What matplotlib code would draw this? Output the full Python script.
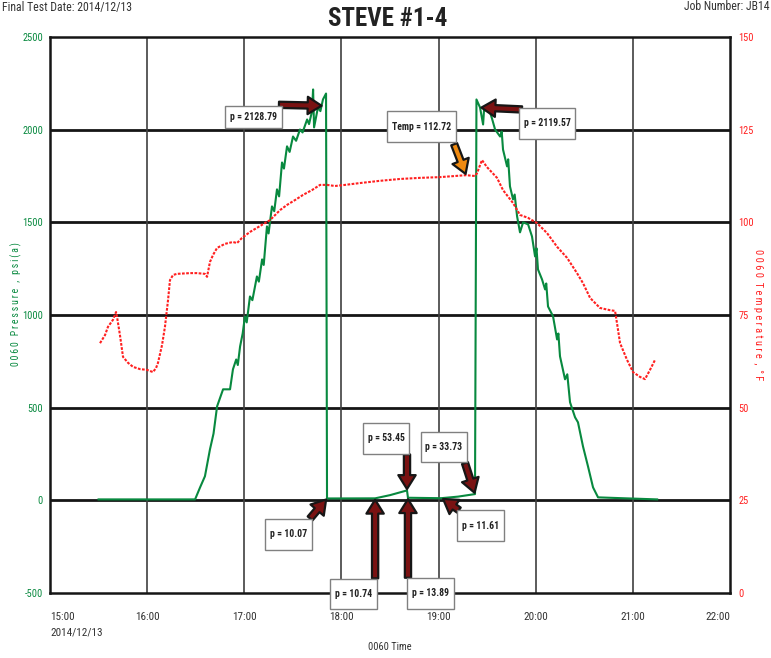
import matplotlib
matplotlib.use("Agg")
import matplotlib.pyplot as plt
import matplotlib.dates as mdates
from matplotlib import font_manager as fm
from matplotlib.path import Path
import pandas as pd

# ---------------- data ----------------
BASE = pd.Timestamp("2014-12-13 15:00")

# pressure series: minutes after 15:00, psi(a)
p_min = [30.0, 89.6, 92.7, 95.7, 98.8, 101.0, 103.2, 106.9, 111.2, 113.0, 115.0, 116.0, 117.4,
         119.0, 120.4, 121.5, 123.5, 125.0, 127.8, 129.0, 131.0, 132.0, 134.0, 135.0, 137.1,
         138.5, 140.2, 141.5, 143.3, 144.5, 146.4, 148.0, 150.1, 152.0, 154.4, 156.0, 158.8,
         160.0, 161.8, 162.5, 163.1, 165.5, 167.0, 168.6, 170.5, 171.1, 200.8, 210.0, 220.5,
         221.1, 240.9, 242.1, 252.0, 262.5,
         263.4, 265.6, 267.5, 268.1, 271.8, 273.0, 274.9, 278.0, 279.0, 279.8, 282.3, 283.0,
         284.1, 286.0, 287.0, 288.5, 290.3, 292.2, 295.3, 297.7, 299.6, 300.5, 301.4, 303.9,
         305.8, 306.5, 307.6, 310.7, 313.2, 314.0, 315.0, 318.1, 319.5, 321.2, 324.3, 326.1,
         329.2, 332.3, 335.4, 338.5, 375.0]
p_val = [5, 5, 70, 130, 275, 360, 507, 599, 599, 707, 760, 730, 830,
         900, 992, 960, 1100, 1080, 1208, 1180, 1300, 1270, 1478, 1440, 1586,
         1560, 1678, 1640, 1823, 1790, 1910, 1880, 1963, 1940, 2001, 1985, 2055,
         2030, 2098, 2217, 2012, 2120, 2100, 2163, 2195, 10.07, 10.74, 28, 53.45,
         13.89, 11.61, 12, 20, 33.73,
         2163, 2120, 2028, 2109, 2093, 2060, 2001, 1963, 1990, 1893, 1802, 1840,
         1694, 1624, 1650, 1532, 1446, 1500, 1489, 1424, 1316, 1360, 1246, 1192,
         1138, 1170, 1046, 993, 868, 900, 777, 653, 680, 529, 448, 421,
         291, 183, 70, 16, 5]

# temperature series: minutes after 15:00, deg F
t_min = [30.9, 34.0, 35.8, 38.9, 40.8, 41.4, 43.2, 45.1, 48.2, 51.3, 55.6, 59.9, 63.6,
         65.5, 66.7, 69.2, 71.0, 72.9, 74.1, 76.0, 78.4, 86.5, 90.8, 95.7, 97.0, 98.8,
         100.7, 103.2, 108.1, 113.0, 115.5, 118.6, 123.5, 129.7, 135.9, 142.1, 146.4,
         151.3, 156.3, 161.8, 166.8, 171.1, 176.0, 182.2, 191.5, 203.8, 216.2, 228.6,
         240.9, 257.0, 262.5, 263.8, 266.8, 269.9, 276.1, 279.8, 286.0, 290.3, 295.3,
         300.8, 307.0, 313.2, 319.4, 325.5, 329.2, 333.6, 339.7, 345.9, 349.0, 350.2,
         352.1, 356.4, 360.1, 364.4, 367.5, 370.6, 373.7]
t_val = [67.4, 69.6, 71.8, 73.7, 75.8, 74.5, 69.6, 63.7, 62.1, 61.0, 60.4, 60.2, 59.6,
         60.7, 62.1, 66.9, 71.8, 79.0, 84.4, 85.8, 86.1, 86.3, 86.3, 86.1, 85.3, 89.3,
         91.2, 93.1, 94.2, 94.7, 94.4, 95.8, 97.4, 99.0, 100.6, 103.3, 104.7,
         106.0, 107.4, 108.7, 110.1, 110.1, 109.8, 110.1, 110.6, 111.2, 111.7, 112.0,
         112.2, 112.72, 112.5, 113.3, 116.8, 114.9, 112.0, 108.7, 105.2, 102.0, 101.2,
         99.8, 97.1, 93.4, 90.4, 86.3, 83.6, 79.6, 76.9, 76.3, 76.1, 72.8,
         67.4, 62.9, 59.6, 58.3, 57.7, 60.2, 62.9]

# annotations: (minutes, value, label)
p_notes = [(168.6, 2128.79, "p = 2128.79"), (265.6, 2119.57, "p = 2119.57"),
           (171.1, 10.07, "p = 10.07"), (200.8, 10.74, "p = 10.74"),
           (220.5, 53.45, "p = 53.45"), (221.1, 13.89, "p = 13.89"),
           (262.5, 33.73, "p = 33.73"), (242.1, 11.61, "p = 11.61")]
t_notes = [(257.0, 112.72, "Temp = 112.72")]

x_hours = ["15:00", "16:00", "17:00", "18:00", "19:00", "20:00", "21:00", "22:00"]
p_ticks = [-500, 0, 500, 1000, 1500, 2000, 2500]
t_ticks = [0, 25, 50, 75, 100, 125, 150]

# ---------------- fonts ----------------
names = {f.name for f in fm.fontManager.ttflist}
FS = 0.86
chosen = None
for cand in ['Liberation Sans Narrow', 'Arial Narrow', 'Roboto Condensed', 'Open Sans Condensed',
             'Noto Sans Condensed', 'DejaVu Sans Condensed']:
    if cand in names:
        chosen = cand
        break
if chosen:
    plt.rcParams['font.family'] = [chosen, 'DejaVu Sans']
    FS = 1.0
else:
    cond = [f for f in fm.fontManager.ttflist
            if f.stretch in ('condensed', 'semi-condensed', 'extra-condensed') or
            (isinstance(f.stretch, int) and f.stretch < 500)]
    if cond:
        plt.rcParams['font.family'] = [cond[0].name, 'DejaVu Sans']
        plt.rcParams['font.stretch'] = 'condensed'
        FS = 1.0
    else:
        plt.rcParams['font.family'] = ['Liberation Sans', 'DejaVu Sans']

# ---------------- figure ----------------
GREEN = '#08893f'
RED = '#ff2020'
DARK = '#333333'

fig = plt.figure(figsize=(7.71, 6.58), dpi=100)
ax = fig.add_axes([50/771, 1-593/658, 680/771, 556/658])
ax2 = ax.twinx()

px = BASE + pd.to_timedelta(p_min, unit='min')
tx = BASE + pd.to_timedelta(t_min, unit='min')

ax.plot(px, p_val, color=GREEN, lw=1.5, zorder=3)
ax2.plot(tx, t_val, color=RED, lw=1.5, ls=(0, (1.3, 0.7)), zorder=3)

xt = [pd.Timestamp("2014-12-13 " + h) for h in x_hours]
ax.set_xlim(xt[0], xt[-1])
ax.set_ylim(-500, 2500)
ax2.set_ylim(0, 150)
ax.set_xticks(xt)
ax.set_xticklabels(x_hours)
ax.set_yticks(p_ticks)
ax.set_yticklabels([str(v) for v in p_ticks])
ax2.set_yticks(t_ticks)
ax2.set_yticklabels([str(v) for v in t_ticks])

for v in p_ticks[1:-1]:
    ax.axhline(v, color='#151515', lw=2.0, zorder=1)
for t in xt[1:-1]:
    ax.axvline(t, color='#404040', lw=1.2, zorder=1)

for s in ax.spines.values():
    s.set_linewidth(1.8)
    s.set_color('#151515')
for s in ax2.spines.values():
    s.set_visible(False)

ax.tick_params(axis='y', length=0, pad=5, labelsize=7.5*FS, labelcolor=GREEN)
ax2.tick_params(axis='y', length=0, pad=6, labelsize=7.5*FS, labelcolor=RED)
ax.tick_params(axis='x', length=0, pad=14, labelsize=8*FS, labelcolor=DARK)
labs = ax.get_xticklabels()
labs[0].set_ha('left')
labs[-1].set_ha('right')

TS = '\u2009'
ax.set_ylabel(TS.join("0060 Pressure , psi(a)"), color=GREEN, fontsize=7*FS, va='center')
ax.yaxis.set_label_coords(-34/680, 0.52)
ax2.set_ylabel(" ".join("0060 Temperature , °F").replace("   ", "  "), color=RED,
               fontsize=7.5*FS, rotation=270, va='center')
ax2.yaxis.set_label_coords(1 + 28/680, 0.50)
ax.set_xlabel("0060 Time", fontsize=7.5*FS, color=DARK, labelpad=14)

fig.text(50/771, 1-632/658, "2014/12/13", fontsize=8*FS, color=DARK, ha='left', va='center')
fig.text(2/771, 1-7/658, "Final Test Date: 2014/12/13", fontsize=8.5*FS, color=DARK, ha='left', va='center')
fig.text(769/771, 1-7/658, "Job Number: JB14", fontsize=8.5*FS, color=DARK, ha='right', va='center')
fig.text(388/771, 1-19/658, "STEVE #1-4", fontsize=18*FS, fontweight='bold', color='#222222',
         ha='center', va='center')

# annotation layout in points relative to the marked point:
# (box centre offset, arrow tail offset, vertical padding factor)
p_layout = [((-50, -8.3), (-31.7, 0.7), 0.62), ((48.2, -11.5), (30.2, -1.4), 1.05),
            ((-27.7, -25.9), (-12.2, -14.4), 1.05), ((-15.8, -68.8), (0, -57.6), 1.05),
            ((-15.1, 37.4), (0, 25.9), 1.05), ((16.2, -68.8), (0, -57.6), 1.05),
            ((-22.3, 33.8), (-7.2, 22.3), 1.05), ((27.7, -19.8), (12.2, -8.6), 1.05)]
t_layout = [((-32, 35), (-8.6, 22.3), 1.05)]


def make_box(pady, padx=0.5):
    def box(x0, y0, width, height, mutation_size):
        px_ = padx * mutation_size
        py_ = pady * mutation_size
        x1, y1 = x0 + width + px_, y0 + height + py_
        xa, ya = x0 - px_, y0 - py_
        return Path([(xa, ya), (x1, ya), (x1, y1), (xa, y1), (xa, ya)],
                    [Path.MOVETO, Path.LINETO, Path.LINETO, Path.LINETO, Path.CLOSEPOLY])
    return box


def note(src, xm, yv, label, boxoff, tailoff, pady, fill):
    # everything is drawn on the top axes so that boxes cover lines and spines
    xy = (mdates.date2num(BASE + pd.Timedelta(minutes=xm)), yv)
    ax2.annotate("", xy=xy, xycoords=src.transData, xytext=tailoff, textcoords='offset points',
                 zorder=5, annotation_clip=False,
                 arrowprops=dict(arrowstyle='simple,head_length=1.0,head_width=1.25,tail_width=0.45',
                                 mutation_scale=10, fc=fill, ec='#161616', lw=1.6,
                                 shrinkA=0, shrinkB=1))
    ax2.annotate(label, xy=xy, xycoords=src.transData, xytext=boxoff, textcoords='offset points',
                 ha='center', va='center', annotation_clip=False,
                 fontsize=7*FS, fontweight='bold', color='#222222', zorder=6,
                 bbox=dict(boxstyle=make_box(pady), fc='white', ec='#808080', lw=1))


for (xm, yv, lab), (bo, to, pady) in zip(p_notes, p_layout):
    note(ax, xm, yv, lab, bo, to, pady, '#7a1212')
for (xm, yv, lab), (bo, to, pady) in zip(t_notes, t_layout):
    note(ax2, xm, yv, lab, bo, to, pady, '#f08a10')

fig.savefig("out.png", dpi=100)
